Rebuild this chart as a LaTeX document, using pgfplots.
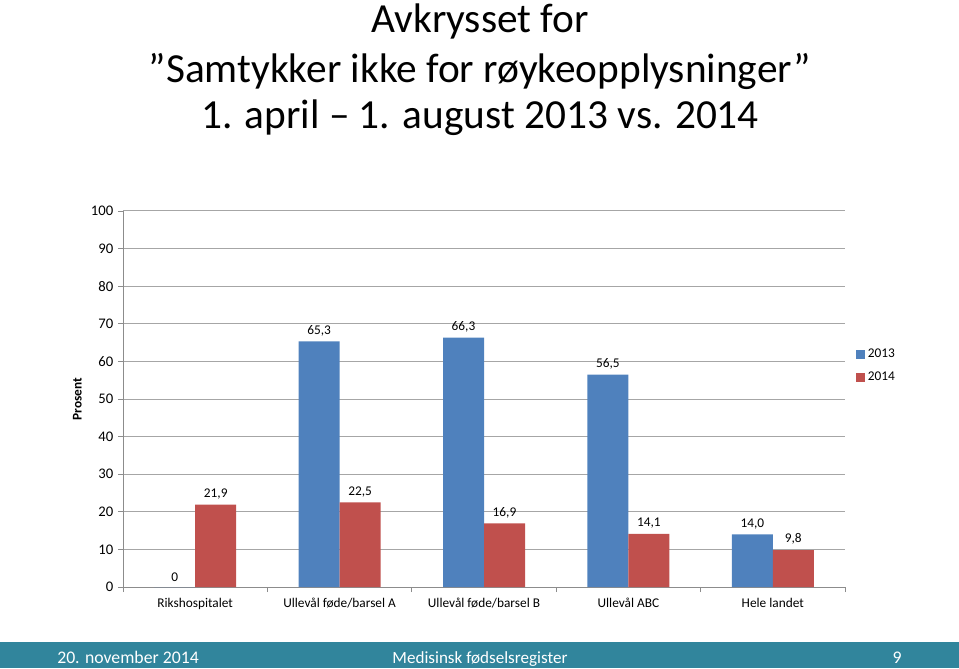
\documentclass[border=0pt]{standalone}
\usepackage{fontspec}
\setmainfont{Carlito}
\usepackage{pgfplots}
\usepackage{pgfplotstable}
\pgfplotsset{compat=1.18}
\definecolor{cblue}{RGB}{79,129,189}
\definecolor{cred}{RGB}{192,80,77}
\definecolor{cteal}{RGB}{49,133,156}
\definecolor{cgrid}{RGB}{166,166,166}
\definecolor{caxis}{RGB}{140,140,140}
\pgfplotstableread{
x y lab
0 0 0
1 65.3 65,3
2 66.3 66,3
3 56.5 56,5
4 14.0 14,0
}\dataA
\pgfplotstableread{
x y lab
0 21.9 21,9
1 22.5 22,5
2 16.9 16,9
3 14.1 14,1
4 9.8 9,8
}\dataB
\begin{document}
\begin{tikzpicture}
\path[use as bounding box] (0,0) rectangle (719.25pt,501pt);
% footer
\fill[cteal] (0,0) rectangle (719.25pt,19.5pt);
\node[anchor=base west,text=white,font=\fontsize{13.3}{15}\selectfont,inner sep=0pt] at (42.75pt,3.2pt) {20. november 2014};
\node[anchor=base,text=white,font=\fontsize{12.8}{15}\selectfont,inner sep=0pt] at (360pt,3.2pt) {Medisinsk fødselsregister};
\node[anchor=base,text=white,font=\fontsize{13.3}{15}\selectfont,inner sep=0pt] at (672.75pt,3.2pt) {9};
% title
\node[anchor=base,font=\fontsize{31}{36}\selectfont,inner sep=0pt] at (360pt,476.25pt) {Avkrysset for};
\node[anchor=base,font=\fontsize{31}{36}\selectfont,inner sep=0pt] at (360pt,438.75pt) {”Samtykker ikke for røykeopplysninger”};
\node[anchor=base,font=\fontsize{31}{36}\selectfont,inner sep=0pt] at (360pt,404.25pt) {1. april – 1. august 2013 vs. 2014};
\begin{axis}[
  at={(92.25pt,60.75pt)}, anchor=south west,
  scale only axis, width=541.5pt, height=282pt,
  ybar=0pt, bar width=30.75pt,
  xmin=-0.5, xmax=4.5, ymin=0, ymax=100,
  ytick={0,10,...,100},
  xtick={0,1,2,3,4},
  xticklabels={Rikshospitalet,Ullevål føde/barsel A,Ullevål føde/barsel B,Ullevål ABC,Hele landet},
  minor xtick={-0.5,0.5,...,4.5},
  major x tick style={draw=none},
  tick align=outside,
  major tick length=3.75pt, minor tick length=3.75pt,
  every tick/.style={caxis, line width=0.6pt},
  axis x line*=bottom, axis y line*=left,
  axis line style={caxis, line width=0.75pt, -},
  ymajorgrids, grid style={cgrid, line width=0.75pt},
  yticklabel style={font=\fontsize{11}{13}\selectfont},
  xticklabel style={font=\fontsize{10}{12}\selectfont, text height=7pt, text depth=2pt, anchor=north, yshift=-1pt},
  /pgf/number format/assume math mode=true,
  ylabel={\bfseries Prosent},
  ylabel style={font=\fontsize{10}{12}\selectfont},
  nodes near coords,
  point meta=explicit symbolic,
  nodes near coords style={font=\fontsize{10}{12}\selectfont, anchor=south, inner sep=4pt},
  legend style={at={(1.015,0.588)}, anchor=west, draw=none, fill=none,
    font=\fontsize{10}{12}\selectfont, row sep=5.5pt, inner sep=0pt},
  legend cell align=left,
  legend image code/.code={\fill (0pt,-3.375pt) rectangle (6.75pt,3.375pt);},
]
\addplot[fill=cblue, draw=none] table[x=x,y=y,meta=lab] {\dataA};
\addplot[fill=cred, draw=none] table[x=x,y=y,meta=lab] {\dataB};
\legend{2013,2014}
\end{axis}
\end{tikzpicture}
\end{document}
